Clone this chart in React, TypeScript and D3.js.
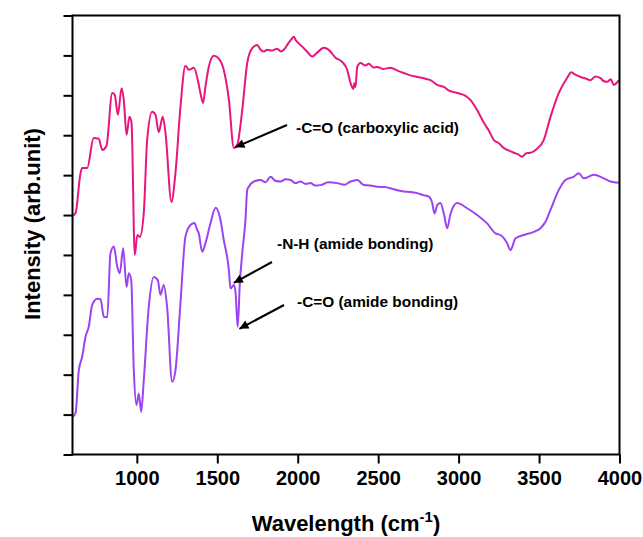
import * as d3 from 'd3'
import { useEffect, useRef } from 'react'

// wavenumber (cm-1) and offset intensity
const acidWave = [600, 619, 650, 660, 691, 732, 763, 785, 811, 847, 863, 882, 905, 919, 936, 954, 967, 987, 1003, 1018, 1043, 1064, 1095, 1116, 1136, 1161, 1178, 1215, 1240, 1271, 1302, 1323, 1354, 1381, 1395, 1412, 1426, 1447, 1478, 1509, 1540, 1572, 1603, 1624, 1655, 1686, 1717, 1748, 1769, 1790, 1810, 1840, 1872, 1895, 1913, 1944, 1960, 1976, 1988, 1997, 2028, 2059, 2090, 2121, 2162, 2193, 2235, 2276, 2307, 2328, 2345, 2352, 2359, 2370, 2390, 2420, 2442, 2470, 2494, 2530, 2577, 2620, 2659, 2700, 2743, 2790, 2825, 2867, 2908, 2940, 2970, 3000, 3032, 3074, 3115, 3157, 3190, 3219, 3250, 3281, 3310, 3343, 3370, 3395, 3420, 3447, 3488, 3529, 3571, 3623, 3675, 3700, 3716, 3735, 3758, 3790, 3820, 3850, 3882, 3900, 3924, 3945, 3965, 3980, 3996]
const acidVal = [5.98, 6.05, 7.05, 7.18, 7.18, 7.93, 7.91, 7.63, 7.73, 9.06, 9.01, 8.51, 9.18, 8.88, 8.01, 8.46, 8.31, 5.0, 5.5, 5.45, 6.05, 7.88, 8.59, 8.51, 8.08, 8.46, 8.06, 6.33, 7.06, 8.71, 9.74, 9.64, 9.69, 9.34, 9.06, 8.81, 9.21, 9.71, 9.99, 9.92, 9.64, 8.89, 7.68, 7.76, 8.63, 9.81, 10.18, 10.26, 10.14, 10.1, 10.14, 10.12, 10.17, 10.1, 10.14, 10.32, 10.4, 10.47, 10.38, 10.34, 10.22, 10.09, 9.97, 10.07, 10.19, 10.14, 9.94, 9.84, 9.64, 9.31, 9.16, 9.3, 9.21, 9.71, 9.81, 9.75, 9.79, 9.7, 9.71, 9.66, 9.69, 9.62, 9.56, 9.5, 9.46, 9.42, 9.38, 9.26, 9.21, 9.12, 9.08, 9.05, 9.01, 8.88, 8.63, 8.31, 8.1, 7.88, 7.8, 7.68, 7.62, 7.56, 7.52, 7.46, 7.55, 7.56, 7.66, 7.88, 8.46, 9.06, 9.44, 9.58, 9.54, 9.5, 9.46, 9.42, 9.38, 9.47, 9.43, 9.36, 9.34, 9.4, 9.26, 9.3, 9.38]

const amideWave = [600, 619, 639, 660, 681, 701, 722, 754, 774, 795, 816, 836, 857, 878, 894, 915, 936, 950, 965, 981, 998, 1012, 1027, 1043, 1074, 1105, 1130, 1147, 1167, 1188, 1219, 1240, 1271, 1302, 1333, 1358, 1375, 1385, 1406, 1426, 1458, 1489, 1516, 1540, 1572, 1582, 1603, 1613, 1627, 1640, 1655, 1675, 1686, 1696, 1727, 1769, 1800, 1831, 1860, 1893, 1925, 1956, 1985, 2017, 2050, 2079, 2110, 2142, 2190, 2245, 2290, 2328, 2370, 2411, 2450, 2494, 2540, 2577, 2620, 2659, 2700, 2743, 2780, 2815, 2836, 2850, 2867, 2887, 2908, 2929, 2950, 2991, 3053, 3115, 3177, 3229, 3260, 3302, 3322, 3354, 3405, 3467, 3509, 3540, 3571, 3623, 3664, 3716, 3747, 3778, 3840, 3902, 3944, 3996]
const amideVal = [0.94, 1.04, 2.11, 2.45, 2.95, 3.2, 3.74, 3.9, 3.89, 3.45, 3.44, 5.04, 5.21, 4.71, 4.54, 5.17, 4.2, 4.54, 4.37, 2.12, 1.24, 1.53, 1.07, 1.86, 3.7, 4.45, 4.37, 4.0, 4.25, 3.7, 1.82, 2.11, 3.79, 5.46, 5.75, 5.8, 5.63, 5.54, 5.08, 5.29, 5.8, 6.18, 5.95, 5.38, 4.62, 4.16, 4.25, 4.08, 3.2, 4.29, 5.04, 5.88, 6.63, 6.71, 6.84, 6.88, 6.82, 6.96, 6.86, 6.84, 6.9, 6.88, 6.8, 6.84, 6.78, 6.8, 6.74, 6.75, 6.82, 6.8, 6.76, 6.84, 6.88, 6.75, 6.74, 6.71, 6.7, 6.67, 6.62, 6.59, 6.58, 6.55, 6.5, 6.46, 6.3, 6.04, 6.25, 6.3, 6.04, 5.67, 6.04, 6.3, 6.17, 6.0, 5.79, 5.54, 5.5, 5.29, 5.12, 5.42, 5.5, 5.58, 5.67, 5.83, 6.13, 6.63, 6.88, 6.96, 7.05, 6.92, 7.01, 6.92, 6.84, 6.81]

const xMajor = [1000, 1500, 2000, 2500, 3000, 3500, 4000]
const xMinor = [750, 1250, 1750, 2250, 2750, 3250, 3750]
const yMajor = [0, 1, 2, 3, 4, 5, 6, 7, 8, 9, 10, 11]
const yMinor = [0.5, 1.5, 2.5, 3.5, 4.5, 5.5, 6.5, 7.5, 8.5, 9.5, 10.5]

// label text, wavenumber and intensity the arrow points at, text position
const notes = [
  { text: '-C=O (carboxylic acid)', wave: 1600, val: 7.7, tx: 296, ty: 133, sx: 287, sy: 125 },
  { text: '-N-H (amide bonding)', wave: 1590, val: 4.3, tx: 277, ty: 249, sx: 272, sy: 262 },
  { text: '-C=O (amide bonding)', wave: 1625, val: 3.15, tx: 297, ty: 307, sx: 284, sy: 305 },
]

const App = () => {
  const ref = useRef(null)

  useEffect(() => {
    var svg = d3.select(ref.current)
    svg.selectAll('*').remove()

    var left = 72.5,
      right = 619.5,
      top = 15.5,
      bottom = 454.5

    var x = d3.scaleLinear().domain([600, 4000]).range([left, right])
    var y = d3.scaleLinear().domain([0, 11]).range([bottom, top])
    var font = '"Liberation Sans", Arial, sans-serif'

    svg
      .append('defs')
      .append('marker')
      .attr('id', 'head')
      .attr('viewBox', '0 0 10 10')
      .attr('refX', 10)
      .attr('refY', 5)
      .attr('markerWidth', 13)
      .attr('markerHeight', 9)
      .attr('markerUnits', 'userSpaceOnUse')
      .attr('orient', 'auto')
      .append('path')
      .attr('d', 'M0,0L10,5L0,10Z')
      .attr('fill', '#000')

    var line = d3
      .line()
      .curve(d3.curveMonotoneX)
      .x((d) => x(d[0]))
      .y((d) => y(d[1]))

    svg
      .append('path')
      .datum(d3.zip(acidWave, acidVal))
      .attr('d', line)
      .attr('fill', 'none')
      .attr('stroke', '#E8157F')
      .attr('stroke-width', 2)
      .attr('stroke-linejoin', 'round')

    svg
      .append('path')
      .datum(d3.zip(amideWave, amideVal))
      .attr('d', line)
      .attr('fill', 'none')
      .attr('stroke', '#9B44F0')
      .attr('stroke-width', 2)
      .attr('stroke-linejoin', 'round')

    // frame
    svg
      .append('path')
      .attr('d', 'M' + left + ',' + top + 'H' + right + 'V' + bottom)
      .attr('fill', 'none')
      .attr('stroke', '#000')
      .attr('stroke-width', 2)

    var gx = svg.append('g').attr('transform', 'translate(0,' + bottom + ')')
    gx.call(d3.axisBottom(x).tickValues(xMinor).tickSize(5).tickFormat(() => ''))
    gx.call(
      d3
        .axisBottom(x)
        .tickValues(xMajor)
        .tickSize(9)
        .tickPadding(7)
        .tickSizeOuter(0)
        .tickFormat(d3.format('d')),
    )
    gx.selectAll('.domain')
      .attr('d', 'M' + (left - 1) + ',0H' + (right + 1))
      .attr('stroke-width', 2)
    gx.selectAll('line').attr('stroke-width', 2)
    gx.selectAll('text')
      .attr('font-family', font)
      .attr('font-weight', 'bold')
      .attr('font-size', 20)
      .attr('fill', '#000')

    var gy = svg.append('g').attr('transform', 'translate(' + left + ',0)')
    gy.call(d3.axisLeft(y).tickValues(yMinor).tickSize(4).tickFormat(() => ''))
    gy.call(d3.axisLeft(y).tickValues(yMajor).tickSize(9).tickFormat(() => ''))
    gy.selectAll('.domain')
      .attr('d', 'M0,' + (top - 1) + 'V' + (bottom + 1))
      .attr('stroke-width', 2)
    gy.selectAll('line').attr('stroke-width', 2)

    svg
      .append('text')
      .attr('x', 346)
      .attr('y', 531)
      .attr('text-anchor', 'middle')
      .attr('font-family', font)
      .attr('font-weight', 'bold')
      .attr('font-size', 22)
      .text('Wavelength (cm')
      .append('tspan')
      .attr('dy', -9)
      .attr('font-size', 15)
      .text('-1')
      .append('tspan')
      .attr('dy', 9)
      .attr('font-size', 22)
      .text(')')

    svg
      .append('text')
      .attr('transform', 'translate(40,224) rotate(-90)')
      .attr('text-anchor', 'middle')
      .attr('font-family', font)
      .attr('font-weight', 'bold')
      .attr('font-size', 22)
      .text('Intensity (arb.unit)')

    notes.forEach(function (n) {
      svg
        .append('line')
        .attr('x1', n.sx)
        .attr('y1', n.sy)
        .attr('x2', x(n.wave) + 2)
        .attr('y2', y(n.val))
        .attr('stroke', '#000')
        .attr('stroke-width', 2)
        .attr('marker-end', 'url(#head)')

      svg
        .append('text')
        .attr('x', n.tx)
        .attr('y', n.ty)
        .attr('font-family', font)
        .attr('font-weight', 'bold')
        .attr('font-size', 15.4)
        .text(n.text)
    })
  }, [])

  return (
    <svg
      ref={ref}
      width={643}
      height={537}
      style={{ position: 'absolute', left: 0, top: 0, background: '#fff' }}
    ></svg>
  )
}

export default App
